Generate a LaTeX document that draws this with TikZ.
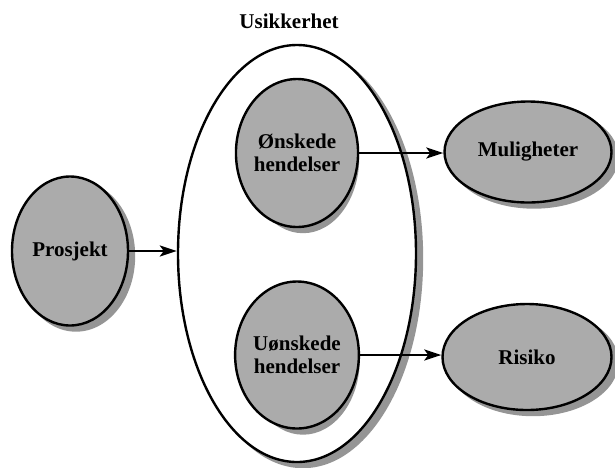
\documentclass[tikz,border=0pt]{standalone}
\usepackage{fontspec}
\setmainfont{Liberation Serif}
\usetikzlibrary{shapes.geometric,arrows.meta}
\definecolor{ovalfill}{HTML}{ABABAB}
\definecolor{ovalshadow}{HTML}{959595}
\tikzset{
  oval/.style={ellipse, draw=black, line width=2.4pt, fill=ovalfill, inner sep=0pt,
    align=center, font=\fontsize{21}{23}\selectfont\bfseries},
  cloud/.style={oval, fill=white},
  link/.style={line width=2.4pt, -{Stealth[length=17pt, width=11pt, inset=4pt]}},
  caption/.style={font=\fontsize{21}{23}\selectfont\bfseries}
}
% gray drop shadow under an oval: centre x, centre y, width, height
\newcommand\ovalshade[4]{%
  \fill[ovalshadow] ({#1+6},{#2+5}) ellipse ({(#3+2.4)/2} and {(#4+2.4)/2});}
\begin{document}
\begin{tikzpicture}[x=1pt, y=-1pt]
  \useasboundingbox (0,0) rectangle (615,467);
  % outer region of uncertainty
  \ovalshade{297}{253.5}{238}{417}
  \node[cloud, minimum width=238pt, minimum height=417pt] (usikker) at (297,253.5) {};
  \node[caption] (tittel) at (289,21) {Usikkerhet};
  % project
  \ovalshade{70}{251}{116}{149}
  \node[oval, minimum width=116pt, minimum height=149pt] (prosjekt) at (70,251) {Prosjekt};
  % events inside the uncertainty region
  \ovalshade{297}{153}{110}{148}
  \node[oval, minimum width=110pt, minimum height=148pt] (onsk) at (297,153) {Ønskede\\hendelser};
  \ovalshade{297}{355}{111}{147}
  \node[oval, minimum width=111pt, minimum height=147pt] (uonsk) at (297,355) {Uønskede\\hendelser};
  % outcomes
  \ovalshade{528}{152}{167}{101}
  \node[oval, minimum width=167pt, minimum height=101pt] (mulig) at (528,152) {Muligheter};
  \ovalshade{527}{357}{169}{106}
  \node[oval, minimum width=169pt, minimum height=106pt] (risiko) at (527,357) {Risiko};
  % connectors
  \draw[link] (prosjekt.east) -- (prosjekt.east -| usikker.west);
  \draw[link] (onsk.east) -- (onsk.east -| mulig.west);
  \draw[link] (uonsk.east) -- (uonsk.east -| risiko.west);
\end{tikzpicture}
\end{document}
